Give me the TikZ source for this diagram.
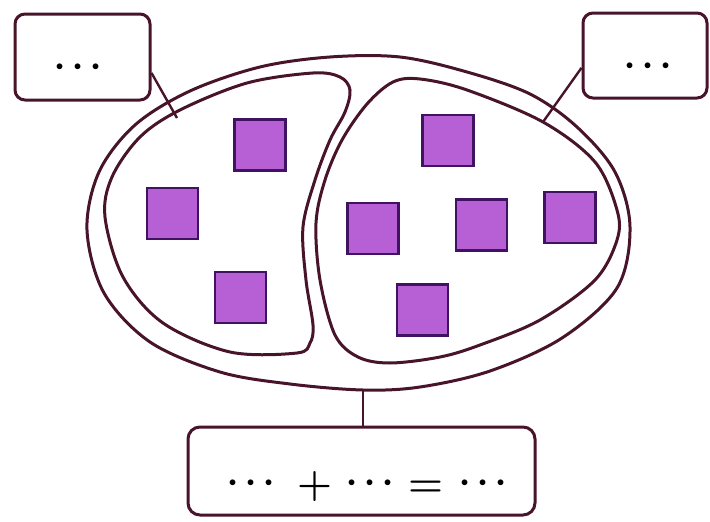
\documentclass[tikz,border=0pt]{standalone}
\usepackage{fontspec}
\usetikzlibrary{shapes.geometric, positioning}
\definecolor{wine}{RGB}{72,20,42}
\definecolor{tilefill}{RGB}{183,96,214}
\definecolor{tileedge}{RGB}{64,18,98}
\newcommand{\blank}{\makebox[18pt]{·}\makebox[18pt]{·}\makebox[18pt]{·}}

\begin{document}
\begin{tikzpicture}[x=1pt, y=-1pt,
  tag/.style={rectangle, draw=wine, line width=3pt, rounded corners=10pt, inner sep=0pt},
  tile/.style={rectangle, draw=tileedge, fill=tilefill, line width=2.4pt,
    minimum size=51pt, inner sep=0pt},
  rim/.style={draw=wine, line width=3pt},
  link/.style={draw=wine, line width=2.4pt},
  dots/.style={font=\fontsize{40}{44}\selectfont\bfseries, inner sep=0pt}]
  \useasboundingbox (0,0) rectangle (710,522);

  % label boxes
  \node[tag, minimum width=135, minimum height=86] (lbox) at (82.5,57) {};
  \node[tag, minimum width=124, minimum height=85] (rbox) at (645,55.5) {};
  \node[tag, minimum width=347, minimum height=88, rounded corners=12pt] (bbox) at (361.5,471) {};
  \node[dots] (ltxt) at (78,72) {\blank};
  \node[dots] (rtxt) at (648,71) {\blank};
  \node[dots] (btxt) at (367,487) {\blank\makebox[65pt]{\hspace{10pt}+}\blank\makebox[59pt]{=}\blank};

  % the whole set
  \draw[rim] plot[smooth cycle, tension=0.55] coordinates {(87,230) (99,172) (135,125) (190,91)
    (260,67) (330,57) (400,57) (467,72) (530,94) (577,127) (615,172) (630,227) (617,288)
    (562,338) (490,371) (420,387) (363,390) (290,384) (220,372) (150,342) (104,293)};
  \coordinate (rimbot) at (363,390);
  % the two parts
  \draw[rim] plot[smooth cycle, tension=0.55] coordinates {(180,110) (247,83) (313,73) (340,77)
    (350,90) (345,112) (330,140) (315,180) (303,227) (306,280) (313,325) (310,343) (297,353)
    (230,352) (163,323) (123,277) (105,217) (112,177) (140,137)};
  \draw[rim] plot[smooth cycle, tension=0.55] coordinates {(367,104) (393,82) (420,79) (467,90)
    (543,122) (595,162) (617,210) (617,240) (595,280) (540,320) (480,345) (440,357) (390,363)
    (358,357) (335,335) (320,280) (316,223) (325,180) (342,140)};

  % connectors
  \coordinate (lhit) at (177,118);
  \coordinate (rhit) at (543,122);
  \draw[link] (lbox.-13) -- (lhit);
  \draw[link] (rbox.191) -- (rhit);
  \draw[link] (rimbot) -- (rimbot |- bbox.north);

  % squares, left part
  \node[tile] (sq1) at (260,145) {};
  \node[tile] (sq2) at (172.5,213.5) {};
  \node[tile] (sq3) at (240.5,297.5) {};
  % squares, right part
  \node[tile] (sq4) at (448,140.5) {};
  \node[tile] (sq5) at (373,228.5) {};
  \node[tile] (sq6) at (481.5,225) {};
  \node[tile] (sq7) at (570,217.5) {};
  \node[tile] (sq8) at (422.5,310) {};
\end{tikzpicture}
\end{document}
